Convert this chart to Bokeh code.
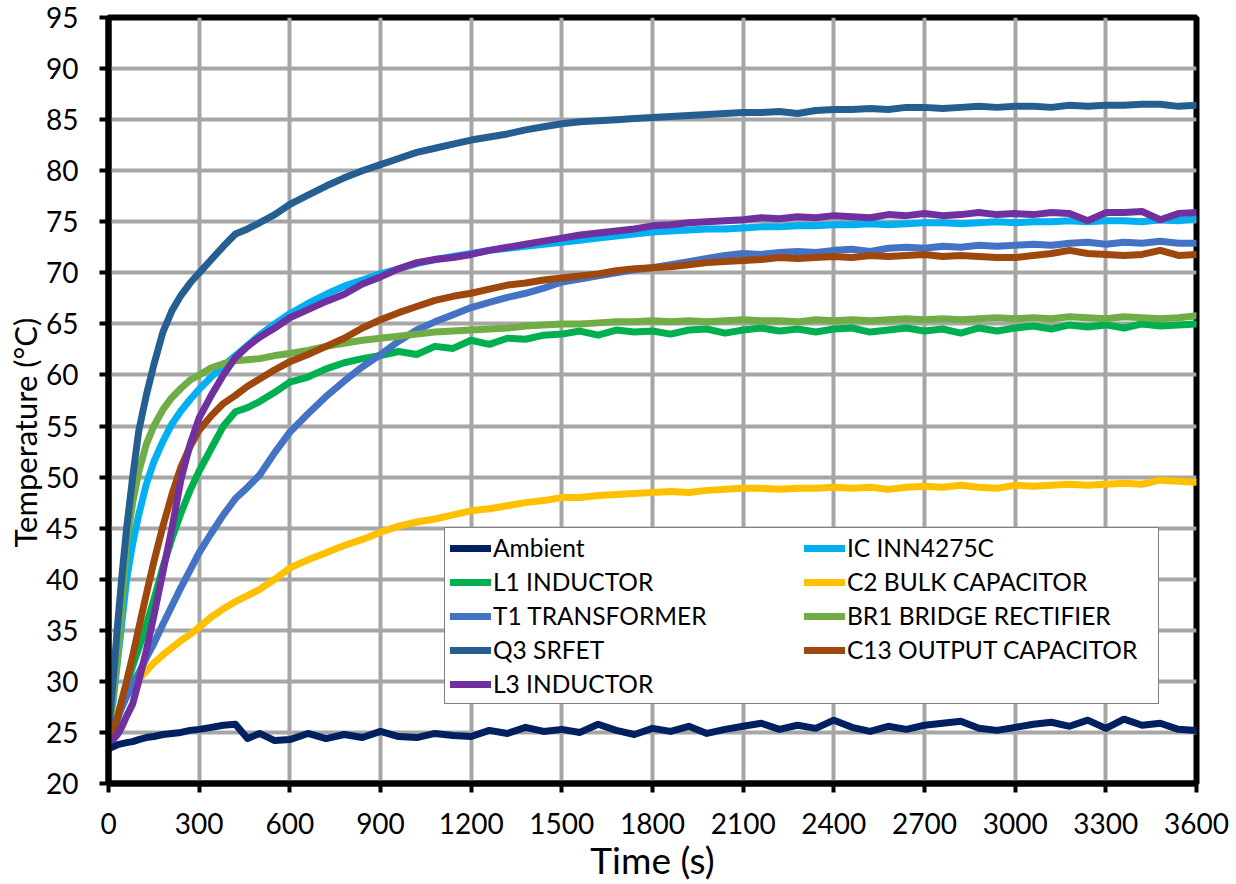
from bokeh.plotting import figure
from bokeh.models import FixedTicker, Legend, LegendItem, Range1d, Title
from bokeh.embed import file_html
from bokeh.resources import INLINE

# ---------------- data ----------------
time_s = [0, 15, 30, 45, 60, 80, 100, 125, 150, 180, 210, 240, 270, 300, 340, 380, 420, 460, 500, 550,
          600, 660, 720, 780, 840, 900, 960, 1020, 1080, 1140,
          1200, 1260, 1320, 1380, 1440, 1500, 1560, 1620, 1680, 1740,
          1800, 1860, 1920, 1980, 2040, 2100, 2160, 2220, 2280, 2340,
          2400, 2460, 2520, 2580, 2640, 2700, 2760, 2820, 2880, 2940,
          3000, 3060, 3120, 3180, 3240, 3300, 3360, 3420, 3480, 3540,
          3600]

ambient = [23.4, 23.6, 23.8, 23.9, 24.0, 24.1, 24.3, 24.5, 24.6, 24.8, 24.9, 25.0, 25.2, 25.3, 25.5, 25.7, 25.8, 24.4, 24.9, 24.2,
           24.3, 24.9, 24.4, 24.8, 24.5, 25.1, 24.6, 24.5, 24.9, 24.7,
           24.6, 25.2, 24.9, 25.5, 25.1, 25.3, 25.0, 25.8, 25.2, 24.8,
           25.4, 25.1, 25.6, 24.9, 25.3, 25.6, 25.9, 25.3, 25.7, 25.4,
           26.2, 25.5, 25.1, 25.6, 25.3, 25.7, 25.9, 26.1, 25.4, 25.2,
           25.5, 25.8, 26.0, 25.6, 26.2, 25.4, 26.3, 25.7, 25.9, 25.3,
           25.2]

ic_inn4275c = [25.0, 28.0, 32.0, 36.0, 40.0, 43.5, 46.3, 49.3, 51.5, 53.5, 55.2, 56.5, 57.6, 58.6, 59.8, 60.9, 61.9, 62.9, 63.9, 65.0,
               66.0, 67.0, 67.9, 68.7, 69.3, 69.9, 70.4, 70.9, 71.3, 71.6,
               71.9, 72.2, 72.4, 72.6, 72.8, 73.0, 73.2, 73.4, 73.6, 73.8,
               74.0, 74.1, 74.2, 74.3, 74.3, 74.4, 74.5, 74.5, 74.6, 74.6,
               74.7, 74.7, 74.8, 74.7, 74.8, 74.9, 74.9, 74.8, 74.9, 75.0,
               74.9, 75.0, 75.0, 75.1, 75.0, 75.1, 75.1, 75.0, 75.2, 75.1,
               75.3]

l1_inductor = [24.5, 25.0, 26.2, 27.8, 29.5, 31.5, 33.2, 35.5, 38.0, 41.2, 44.0, 46.5, 48.7, 50.6, 52.8, 55.0, 56.4, 56.8, 57.4, 58.3,
               59.3, 59.8, 60.6, 61.2, 61.6, 61.9, 62.3, 62.0, 62.8, 62.6,
               63.4, 63.0, 63.6, 63.5, 63.9, 64.0, 64.3, 63.9, 64.4, 64.2,
               64.3, 64.0, 64.4, 64.5, 64.1, 64.4, 64.6, 64.3, 64.5, 64.2,
               64.5, 64.6, 64.2, 64.4, 64.6, 64.3, 64.5, 64.1, 64.6, 64.3,
               64.6, 64.8, 64.5, 64.9, 64.7, 64.9, 64.6, 65.0, 64.8, 64.9,
               65.0]

c2_bulk_capacitor = [25.5, 26.3, 27.0, 27.8, 28.6, 29.5, 30.2, 31.0, 31.8, 32.6, 33.3, 34.0, 34.6, 35.3, 36.3, 37.1, 37.8, 38.4, 39.0, 40.0,
                     41.1, 41.9, 42.6, 43.3, 43.9, 44.6, 45.2, 45.6, 45.9, 46.3,
                     46.7, 46.9, 47.2, 47.5, 47.7, 48.0, 48.0, 48.2, 48.3, 48.4,
                     48.5, 48.6, 48.5, 48.7, 48.8, 48.9, 48.9, 48.8, 48.9, 48.9,
                     49.0, 48.9, 49.0, 48.8, 49.0, 49.1, 49.0, 49.2, 49.0, 48.9,
                     49.2, 49.1, 49.2, 49.3, 49.2, 49.3, 49.4, 49.3, 49.7, 49.6,
                     49.5]

t1_transformer = [27.0, 25.8, 26.5, 27.5, 28.5, 29.7, 30.8, 32.3, 33.7, 35.6, 37.4, 39.2, 40.9, 42.6, 44.5, 46.3, 47.9, 49.0, 50.2, 52.4,
                  54.4, 56.2, 57.9, 59.4, 60.8, 62.0, 63.3, 64.4, 65.2, 65.9,
                  66.6, 67.1, 67.6, 68.0, 68.5, 69.1, 69.4, 69.7, 70.0, 70.3,
                  70.5, 70.8, 71.1, 71.4, 71.7, 71.9, 71.8, 72.0, 72.1, 72.0,
                  72.2, 72.3, 72.1, 72.4, 72.5, 72.4, 72.6, 72.5, 72.7, 72.6,
                  72.7, 72.8, 72.7, 72.9, 73.0, 72.8, 73.0, 72.9, 73.1, 72.9,
                  72.9]

br1_bridge_rectifier = [25.0, 28.5, 32.5, 37.5, 43.5, 47.5, 50.5, 53.2, 55.0, 56.6, 57.8, 58.7, 59.5, 60.0, 60.7, 61.1, 61.4, 61.5, 61.6, 61.9,
                        62.1, 62.4, 62.8, 63.1, 63.4, 63.6, 63.8, 64.0, 64.2, 64.3,
                        64.4, 64.5, 64.6, 64.8, 64.9, 65.0, 65.0, 65.1, 65.2, 65.2,
                        65.3, 65.2, 65.3, 65.2, 65.3, 65.4, 65.3, 65.3, 65.2, 65.4,
                        65.3, 65.4, 65.3, 65.4, 65.5, 65.4, 65.5, 65.4, 65.5, 65.6,
                        65.5, 65.6, 65.5, 65.7, 65.6, 65.5, 65.7, 65.6, 65.5, 65.6,
                        65.8]

q3_srfet = [25.0, 30.0, 35.5, 40.5, 45.0, 50.0, 54.5, 58.0, 61.0, 64.2, 66.3, 67.8, 69.0, 70.0, 71.3, 72.6, 73.8, 74.3, 74.9, 75.7,
            76.7, 77.6, 78.5, 79.3, 80.0, 80.6, 81.2, 81.8, 82.2, 82.6,
            83.0, 83.3, 83.6, 84.0, 84.3, 84.6, 84.8, 84.9, 85.0, 85.1,
            85.2, 85.3, 85.4, 85.5, 85.6, 85.7, 85.7, 85.8, 85.6, 85.9,
            86.0, 86.0, 86.1, 86.0, 86.2, 86.2, 86.1, 86.2, 86.3, 86.2,
            86.3, 86.3, 86.2, 86.4, 86.3, 86.4, 86.4, 86.5, 86.5, 86.3,
            86.4]

c13_output_capacitor = [24.8, 25.2, 26.5, 28.3, 30.0, 32.5, 35.2, 38.5, 41.7, 45.2, 48.3, 51.0, 53.0, 54.6, 56.0, 57.2, 58.0, 58.9, 59.6, 60.5,
                        61.3, 62.0, 62.8, 63.6, 64.6, 65.4, 66.1, 66.7, 67.3, 67.7,
                        68.0, 68.4, 68.8, 69.0, 69.3, 69.5, 69.7, 69.9, 70.2, 70.4,
                        70.5, 70.6, 70.8, 71.0, 71.1, 71.2, 71.3, 71.5, 71.4, 71.5,
                        71.6, 71.5, 71.7, 71.6, 71.7, 71.8, 71.6, 71.7, 71.6, 71.5,
                        71.5, 71.7, 71.9, 72.2, 71.9, 71.8, 71.7, 71.8, 72.2, 71.7,
                        71.8]

l3_inductor = [24.2, 24.3, 24.8, 25.6, 26.6, 27.8, 30.0, 33.0, 36.4, 40.7, 45.0, 49.8, 53.2, 55.8, 58.0, 60.0, 61.7, 62.8, 63.7, 64.6,
               65.6, 66.4, 67.2, 67.9, 68.9, 69.6, 70.4, 71.0, 71.3, 71.5,
               71.8, 72.2, 72.5, 72.8, 73.1, 73.4, 73.7, 73.9, 74.1, 74.3,
               74.6, 74.7, 74.9, 75.0, 75.1, 75.2, 75.4, 75.3, 75.5, 75.4,
               75.6, 75.5, 75.4, 75.7, 75.6, 75.8, 75.6, 75.7, 75.9, 75.7,
               75.8, 75.7, 75.9, 75.8, 75.1, 75.9, 75.9, 76.0, 75.2, 75.8,
               75.9]

series_names = ["Ambient", "IC INN4275C", "L1 INDUCTOR", "C2 BULK CAPACITOR", "T1 TRANSFORMER",
                "BR1 BRIDGE RECTIFIER", "Q3 SRFET", "C13 OUTPUT CAPACITOR", "L3 INDUCTOR"]
series_values = [ambient, ic_inn4275c, l1_inductor, c2_bulk_capacitor, t1_transformer,
                 br1_bridge_rectifier, q3_srfet, c13_output_capacitor, l3_inductor]
series_colors = ["#002060", "#00B0F0", "#00B050", "#FFC000", "#4472C4",
                 "#70AD47", "#255E91", "#9E480E", "#7030A0"]

x_ticks = [0, 300, 600, 900, 1200, 1500, 1800, 2100, 2400, 2700, 3000, 3300, 3600]
y_ticks = [20, 25, 30, 35, 40, 45, 50, 55, 60, 65, 70, 75, 80, 85, 90, 95]
x_title = "Time (s)"
y_title = "Temperature (°C)"

FONT = "Lato"

p = figure(width=1236, height=884, x_range=Range1d(0, 3600), y_range=Range1d(20, 95),
           output_backend="svg", toolbar_location=None,
           min_border_left=108, min_border_right=40, min_border_top=17, min_border_bottom=101,
           x_axis_label=x_title)

p.outline_line_color = "black"
p.outline_line_width = 6
p.background_fill_color = "white"
p.border_fill_color = "white"

p.xaxis.ticker = FixedTicker(ticks=x_ticks)
p.yaxis.ticker = FixedTicker(ticks=y_ticks)
for ax in (p.xaxis, p.yaxis):
    ax.axis_line_color = "black"
    ax.axis_line_width = 6
    ax.major_tick_line_color = "black"
    ax.major_tick_line_width = 4
    ax.major_tick_out = 9
    ax.major_tick_in = 0
    ax.minor_tick_line_color = None
    ax.major_label_text_font = FONT
    ax.major_label_text_font_size = "28px"
    ax.major_label_text_color = "black"
    ax.axis_label_text_font = FONT
    ax.axis_label_text_font_size = "37px"
    ax.axis_label_text_font_style = "normal"
    ax.axis_label_text_color = "black"
p.xaxis.major_label_standoff = 20
p.yaxis.major_label_standoff = 21
p.xaxis.axis_label_standoff = 0

ytitle = Title(text=y_title, align="left", offset=236, standoff=0,
               text_font=FONT, text_font_size="31px", text_font_style="normal",
               text_color="black")
p.add_layout(ytitle, "left")

for g in (p.xgrid, p.ygrid):
    g.grid_line_color = "#A6A6A6"
    g.grid_line_width = 4

renderers = {}
for name, vals, col in zip(series_names, series_values, series_colors):
    r = p.line(time_s, vals, line_color=col, line_width=7, line_cap="round", line_join="round")
    renderers[name] = r

legend_order = ["Ambient", "L1 INDUCTOR", "T1 TRANSFORMER", "Q3 SRFET", "L3 INDUCTOR",
                "IC INN4275C", "C2 BULK CAPACITOR", "BR1 BRIDGE RECTIFIER", "C13 OUTPUT CAPACITOR"]
items = [LegendItem(label=n, renderers=[renderers[n]]) for n in legend_order]
legend = Legend(items=items, ncols=2, location=(336, 79), margin=0,
                border_line_color="black", border_line_width=1,
                background_fill_color="white", background_fill_alpha=1.0,
                label_text_font=FONT, label_text_font_size="24.5px", label_text_color="black",
                glyph_width=41, glyph_height=20, label_standoff=2, label_height=28,
                label_width=306, spacing=5, padding=5)
p.add_layout(legend)

open("out.html", "w").write(file_html(p, INLINE))
